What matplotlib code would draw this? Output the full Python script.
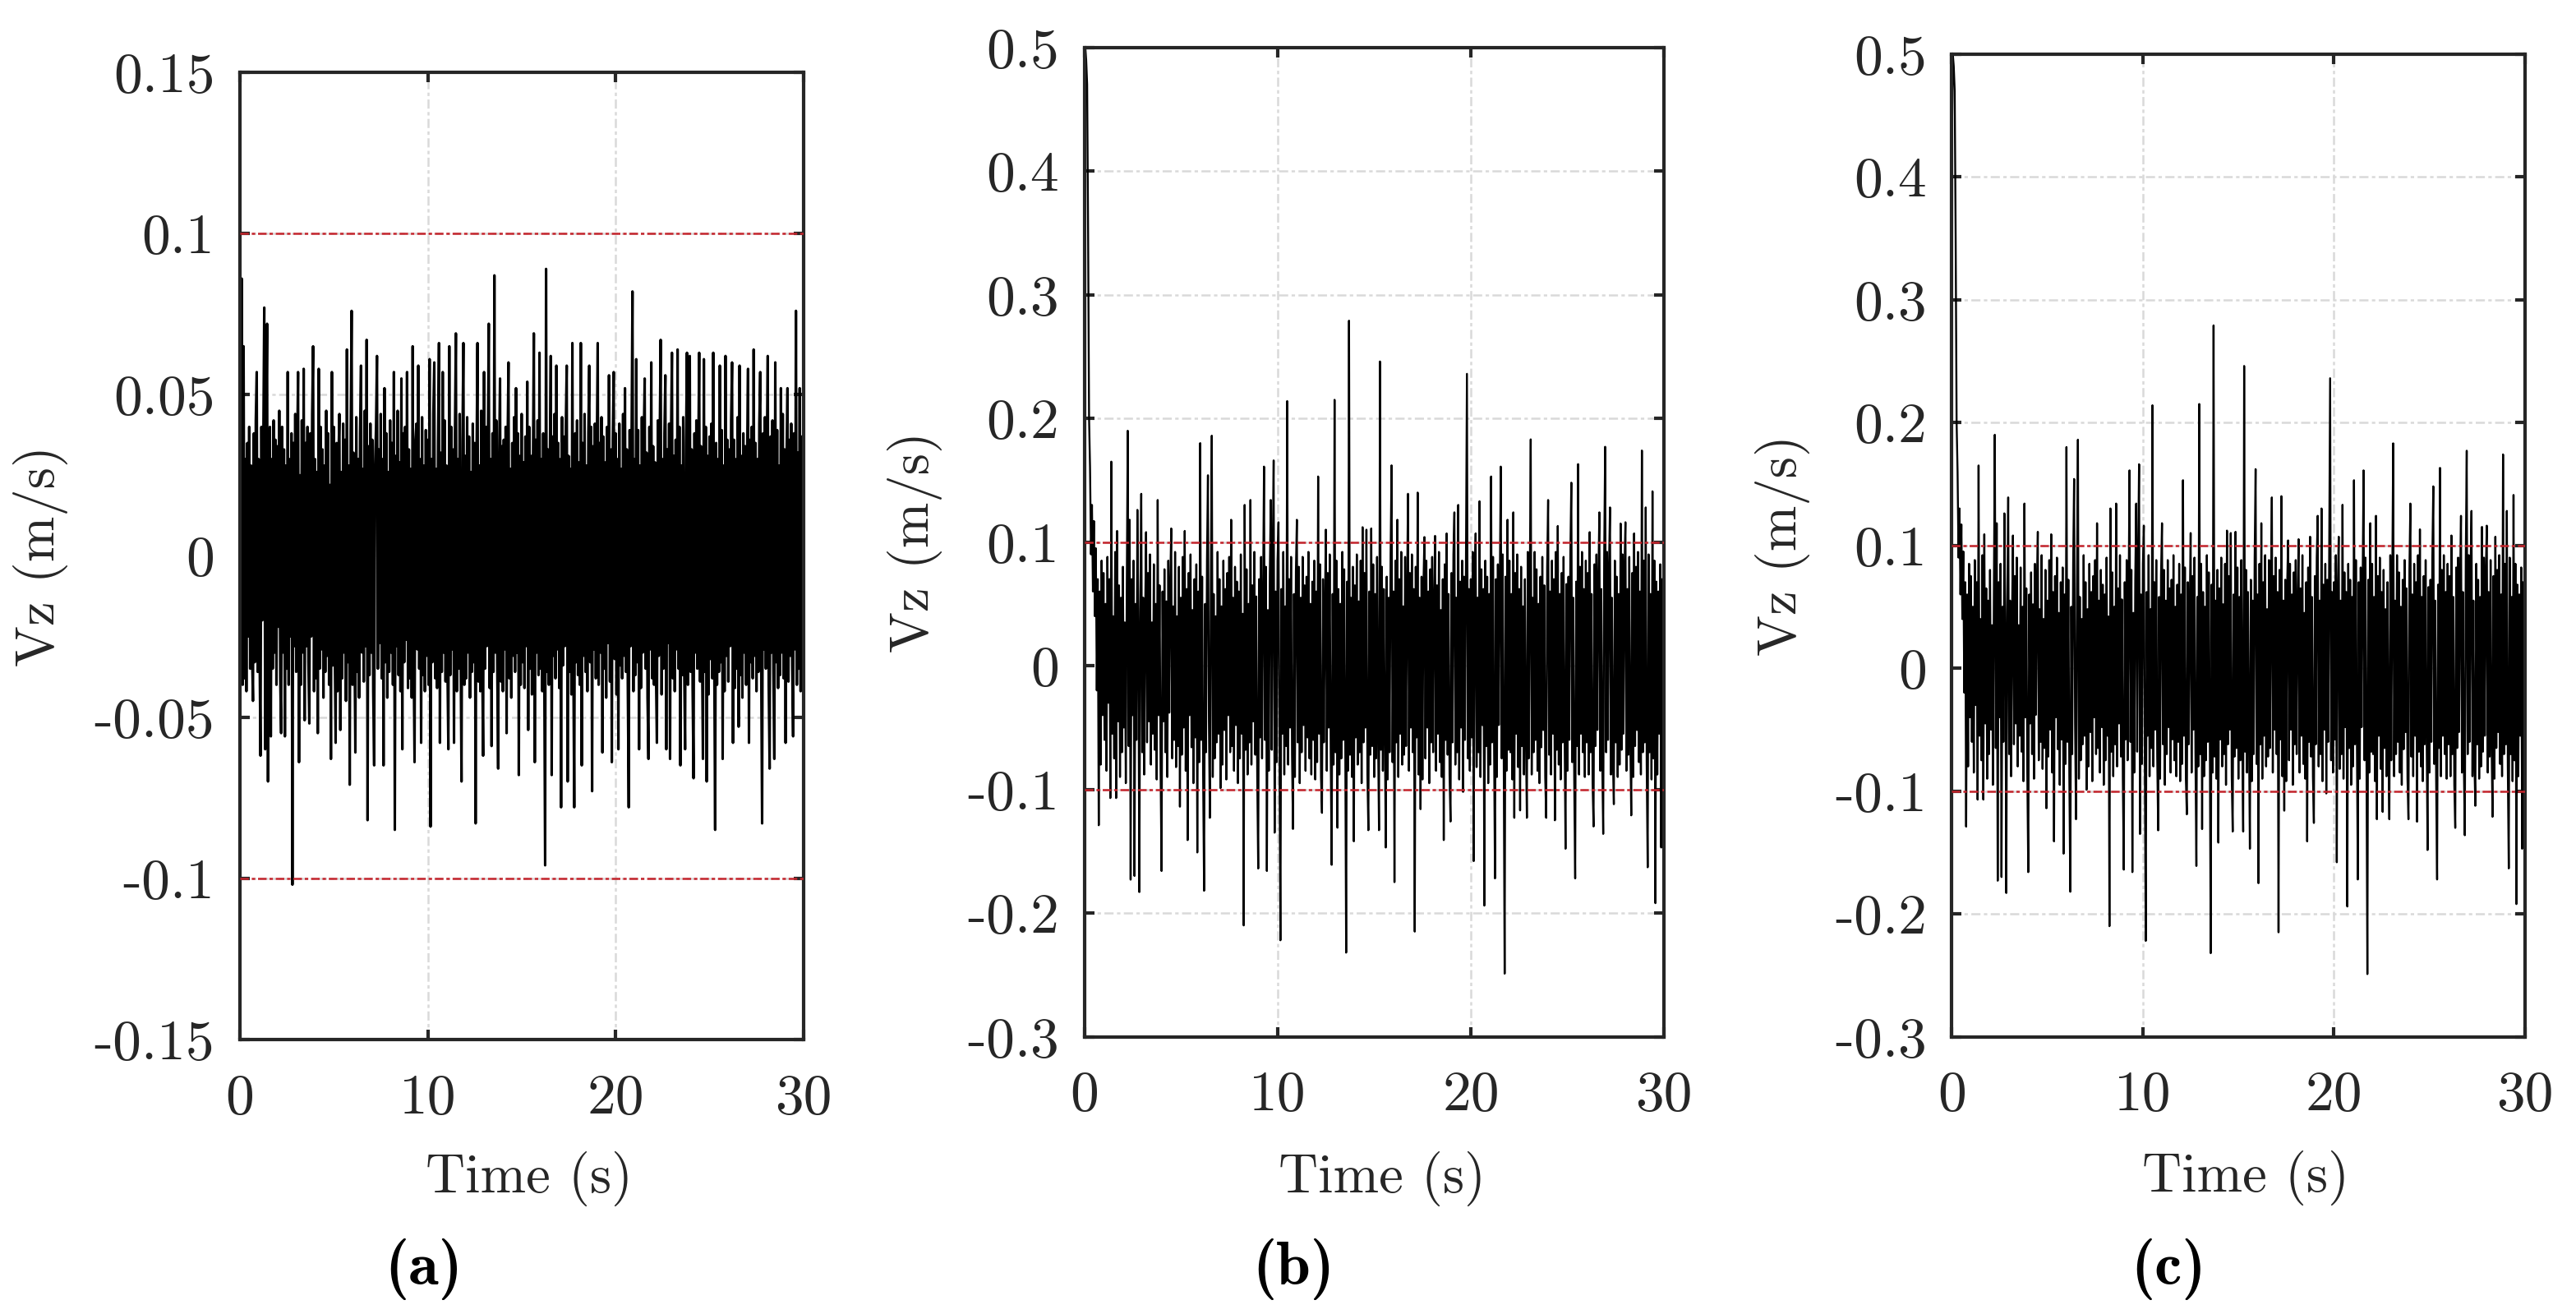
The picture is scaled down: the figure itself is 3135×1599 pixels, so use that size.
import numpy as np
import matplotlib.pyplot as plt

# sample spacing of the records (s)
dt = 0.05

# Vz readings in mm/s, one row per second (20 samples per row)
vz_a = [
    0, -30, 86, -40, 65, -38, 30, -42, 35, -25, 40, -35, 28, -30, -45, 38, -33, 42, 57, -36,
    30, -28, -62, 40, -20, 35, 77, -60, 38, 72, -70, 25, 40, -56, 30, -35, 42, -30, 36, -40,
    34, -22, 45, -38, -55, 40, -30, 33, -56, 28, -35, 57, -40, 30, -25, 38, -102, 35, -28, 44,
    -36, 30, 57, -64, 25, -40, 42, -30, 58, -51, 35, -28, 40, -33, -52, 38, -25, 44, 65, -42,
    30, -38, 26, -55, 58, -35, 40, -29, 33, -44, 28, -36, 45, -31, 38, -40, 22, -63, 57, -34,
    40, -27, -58, 35, -42, 30, 44, -54, 26, -38, 41, -30, 36, -45, 64, -33, 28, -71, 39, 76,
    -40, 32, -25, -61, 43, -36, 30, -44, 38, 59, -30, 27, -39, 45, -28, 67, -82, 34, -37, 41,
    -30, 36, -42, -65, 28, 40, 62, -35, 33, -27, 44, -38, 30, -65, 52, -33, 38, -44, 26, -36,
    42, -30, 35, -40, 57, -85, 31, -28, 45, -37, 29, -42, 55, -60, 38, -33, 40, -26, 57, -41,
    33, -38, 27, -44, 65, -30, -64, 36, 41, -29, 59, -35, 30, -58, 43, -37, 28, -42, 39, -31,
    36, -40, 61, -84, 30, -33, 44, 60, -38, 27, -41, 35, 66, -58, 32, -36, 57, -30, 42, -39,
    28, -34, -60, 65, -37, 40, -29, 33, -58, 38, 69, -42, 30, -35, 44, -27, -70, 36, 66, -40,
    31, -38, 43, -30, 37, -44, 26, -36, 41, -33, 35, -83, 30, 66, -39, 28, -42, 45, -31, -62,
    57, -35, 40, -28, 33, 72, -41, 30, -59, 38, -36, 87, -30, 42, -33, -66, 29, 55, -39, 34,
    -42, 36, -29, 40, -55, 33, 60, -38, 27, -44, 35, -31, 43, -36, 52, -30, 38, -68, 31, -40,
    44, -33, 29, -41, 37, -28, 54, -54, 40, -35, 31, -43, 26, 69, -64, 36, -30, 42, -37, 63,
    -35, 30, -42, 38, -27, -96, 89, -36, 33, -40, 28, 62, -68, 37, -31, 44, -38, 59, -29, 35,
    -41, 30, -78, 43, -34, 37, -28, 40, 59, -70, 31, -36, 27, -43, 66, -30, -78, 38, -33, 42,
    -37, 29, -40, 66, -65, 35, -31, 44, -36, 28, -42, 38, 59, -33, 40, -73, 34, -29, 41, -38,
    32, 66, -40, 35, -30, 43, -61, 37, -35, 29, -44, 40, -27, 56, -39, 33, -64, 36, 57, -32,
    38, -43, 30, -60, 41, -34, 27, -38, 44, -31, 52, -36, 33, -40, -78, 39, -28, 35, 82, -42,
    30, -37, 61, -33, 39, -60, 28, -41, 43, -30, 36, 55, -35, 32, -44, -63, 40, -29, 60, -38,
    34, -40, 29, -36, -58, 42, -31, 37, 67, -43, 30, -35, 38, 56, -60, 33, -27, 41, -63, 36,
    63, -38, 31, -42, 36, -29, 64, -35, 40, -65, 28, -37, 43, -33, -60, 35, 63, -40, 30, 62,
    -36, 33, -41, -69, 38, -30, 42, -35, 29, 63, -39, 34, -28, -63, 61, -36, 40, -70, 31, -43,
    37, -32, 41, -38, 63, -29, -85, 35, -40, 30, -36, 59, -33, 39, -63, 28, -42, 62, -31, 36,
    -39, 33, -28, 42, 60, -58, 36, -41, 30, -35, 43, -53, 59, -37, 31, -44, 38, -30, 34, -40,
    29, 58, -58, 36, -33, 40, -38, 64, -31, 35, -42, 30, -36, 41, 57, -34, -83, 38, -29, 43,
    -35, 31, 62, -40, -66, 37, -30, 42, -36, -63, 60, -33, 39, -41, 28, -37, 52, -30, 44, -38,
    33, -58, 30, 52, -39, 36, -31, 41, -34, -56, 38, -29, 76, -40, 32, -35, 52, -42, 37, -30,
    35,
]

vz_b = [
    420, 500, 490, 470, 350, 200, 160, 90, 130, 60, 117, 40, 95, -20, 70, -129, 60, -80, 85, -40,
    75, -60, 50, -85, 88, -30, 70, -107, 165, -55, 40, -75, 92, -107, 109, -45, 65, -90, 55, -70,
    80, -50, 35, -95, 60, 190, -65, 118, -173, 70, -40, 85, -170, 50, -60, 126, 30, -183, 45, 139,
    -70, 55, -88, 40, 108, -62, 75, -45, 90, -80, 35, -55, 82, -68, 50, -92, 134, -40, 65, -85,
    -166, 60, -45, 78, -70, 52, -90, 85, -38, 66, 111, -75, 48, -60, 92, -82, 40, -65, 80, -114,
    55, -72, 88, -50, 109, -85, 62, -141, 75, -40, 90, -66, 45, -95, 70, -58, 82, -151, 60, -78,
    180, -60, 72, -88, -182, 50, -70, 85, 154, -45, -123, 66, 186, -90, 58, -75, 40, -62, 92, -55,
    70, -99, 48, -80, 85, -52, 62, -92, 75, -40, 88, -70, 118, -65, 55, -85, 80, -48, 68, -95,
    60, -75, 90, -55, 42, -210, 130, -68, 78, -88, 50, -62, 134, -80, 65, -45, 92, -72, 56, -90,
    -164, 70, -58, 88, -75, 52, 161, -60, 80, -166, 45, -85, 72, 134, -68, 90, 166, -135, 60, -78,
    85, 116, -70, -222, 62, -55, 92, -88, 48, -65, 214, -80, 70, -50, 88, -72, -132, 58, -90, 76,
    118, -62, 80, -95, 55, -70, 88, -48, 65, -85, 72, -58, 92, -75, 50, -88, 68, -60, 85, -92,
    60, -78, 153, -55, 82, -90, -119, 70, -62, 45, 110, -85, 75, -50, 90, -68, -161, 58, -80, 215,
    -70, 85, -131, 62, -88, 50, -75, 92, -60, 78, -45, -232, 68, -85, 279, -72, 55, -90, 80, -142,
    65, -58, 90, -80, 52, -70, 85, -95, 112, -62, 75, -50, 110, -88, -133, 60, -72, 111, -65, 82,
    -90, 58, -75, 88, -55, -133, 246, -68, 80, -85, 62, -48, -147, 72, -92, 55, -70, 90, 162, -78,
    60, -175, 85, -62, 118, -90, 70, -55, 92, -80, 48, -72, 88, -65, 58, 139, -85, 75, -50, 90,
    -70, 62, -215, 80, -58, 140, -88, 55, -116, 72, -92, 66, 104, -75, 85, -50, 60, -95, 78, -62,
    88, -70, 52, 105, -85, 65, -55, 92, -78, 45, -90, 70, -141, 82, -60, 107, -72, 58, -88, -126,
    75, -62, 90, 124, -80, 55, -70, 130, -92, 68, -50, 85, -102, 72, -60, 88, 236, -75, 62, -85,
    70, -58, 92, -158, 65, 107, -82, 55, -70, 133, -90, 78, -48, 62, -194, 85, -65, 72, -95, 58,
    -80, 153, -62, 88, -55, -172, 70, -90, 82, -48, 66, 161, -75, 90, -60, -249, 72, -85, 118, -68,
    85, -70, 58, -92, 124, -123, 75, -55, 90, -82, 62, -117, 80, -65, 48, -88, 70, -58, -123, 92,
    -75, 62, 183, -88, 55, -70, 92, -60, 78, -85, 50, -95, 72, -66, 88, -52, 65, -90, -123, 80,
    134, -72, 60, -88, 85, -55, 70, -125, 92, -68, 113, -80, 58, -92, 75, -62, 88, -50, -148, 66,
    -85, 72, -60, 90, 148, -78, 55, -92, -172, 68, -65, 163, -88, 80, -55, 92, -70, 62, -90, 85,
    -62, 75, -88, 108, -70, 58, -95, -130, 82, -65, 90, -52, 70, 124, -85, 62, -78, -136, 88, 177,
    -70, 92, -60, 80, 128, -88, 55, -75, -112, 85, -62, 72, -90, 58, -80, 115, -68, 90, -55, 78,
    116, -85, 62, -72, 88, -58, -121, 75, -90, 107, -65, 80, -52, 92, -78, 60, -88, 174, -70, 85,
    -62, 128, -80, -163, 90, -70, 58, -92, 141, -75, 85, -192, 68, -88, 60, -55, 82, -147, 70, -90,
    45,
]

# panel (c) shows the same record as panel (b)
vz_c = list(vz_b)

threshold = 0.1
captions = ['(a)', '(b)', '(c)']
ticks_a = [-0.15, -0.1, -0.05, 0, 0.05, 0.1, 0.15]
labels_a = ['-0.15', '-0.1', '-0.05', '0', '0.05', '0.1', '0.15']
ticks_bc = [-0.3, -0.2, -0.1, 0, 0.1, 0.2, 0.3, 0.4, 0.5]
labels_bc = ['-0.3', '-0.2', '-0.1', '0', '0.1', '0.2', '0.3', '0.4', '0.5']
xticks = [0, 10, 20, 30]

plt.rcParams['font.family'] = 'cmr10'
plt.rcParams['axes.unicode_minus'] = False
plt.rcParams['lines.scale_dashes'] = False

fig = plt.figure(figsize=(31.35, 15.99), dpi=100)

boxes = [
    [0.0931, 0.209, 0.2188, 0.736],
    [0.4209, 0.211, 0.2251, 0.753],
    [0.7577, 0.211, 0.2225, 0.748],
]
series = [vz_a, vz_b, vz_c]
line_w = [2.2, 1.7, 1.7]
ylims = [(-0.15, 0.15), (-0.3, 0.5), (-0.3, 0.5)]
yticks = [(ticks_a, labels_a), (ticks_bc, labels_bc), (ticks_bc, labels_bc)]
ylabel_x = [-0.354, -0.292, -0.295]
caption_x = [0.1645, 0.502, 0.8418]
dark = '#262626'

for i in range(3):
    ax = fig.add_axes(boxes[i])
    vz = np.array(series[i]) / 1000.0
    t = np.arange(len(vz)) * dt
    ax.plot(t, vz, color='black', lw=line_w[i], zorder=2)
    for lev in (threshold, -threshold):
        ax.axhline(lev, color='#c4242c', lw=1.8, linestyle=(0, (7.5, 2.5, 3, 2.5)), zorder=3)

    ax.set_xlim(0, 30)
    ax.set_ylim(*ylims[i])
    ax.set_xticks(xticks)
    ax.set_xticklabels([str(x) for x in xticks])
    ax.set_yticks(yticks[i][0])
    ax.set_yticklabels(yticks[i][1])
    ax.grid(True, color='#d9d9d9', lw=1.8, linestyle=(0, (8, 3, 3, 3)))
    ax.set_axisbelow(True)

    ax.tick_params(direction='in', length=8.5, width=3, top=True, right=True,
                   labelsize=50, colors=dark)
    ax.tick_params(axis='x', pad=30)
    ax.tick_params(axis='y', pad=22)
    for s in ax.spines.values():
        s.set_linewidth(3)
        s.set_color(dark)

    ax.set_xlabel('Time (s)', fontsize=48, color=dark, va='center')
    ax.xaxis.set_label_coords(0.513, -0.144)
    ax.set_ylabel('Vz (m/s)', fontsize=48, color=dark, va='center')
    ax.yaxis.set_label_coords(ylabel_x[i], 0.5)

    fig.text(caption_x[i], 0.034, captions[i], family='cmb10', fontsize=54,
             ha='center', va='center', color='black')

fig.savefig('out.png', dpi=100)
